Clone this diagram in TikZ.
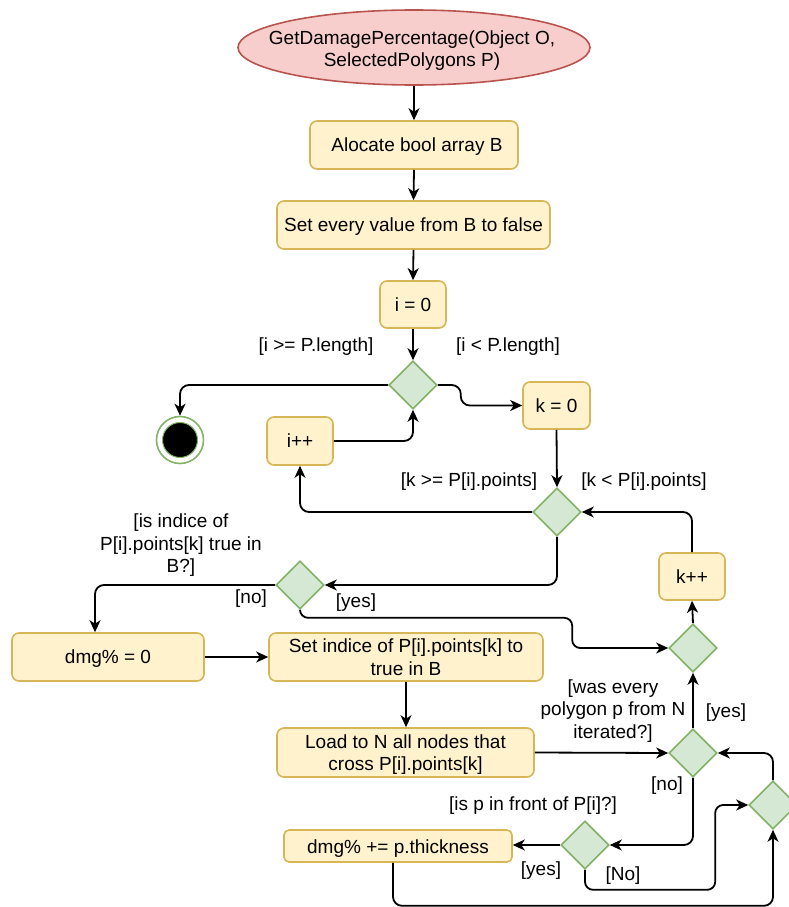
\documentclass[tikz,border=0pt]{standalone}
\usepackage{fontspec}
\setmainfont{Liberation Sans}
\usetikzlibrary{shapes.geometric,arrows.meta}

\definecolor{actfill}{HTML}{FFF2CC}
\definecolor{actline}{HTML}{D6B656}
\definecolor{decfill}{HTML}{D5E8D4}
\definecolor{decline}{HTML}{82B366}
\definecolor{startfill}{HTML}{F8CECC}
\definecolor{startline}{HTML}{B85450}

\tikzset{
  act/.style={draw=actline, fill=actfill, line width=1.6pt, rounded corners=7pt,
              inner sep=2pt, align=center},
  oneline/.style={text height=18pt, text depth=4.6pt},
  dec/.style={diamond, draw=decline, fill=decfill, line width=1.6pt,
              minimum width=48pt, minimum height=48pt, inner sep=0pt},
  flow/.style={draw, line width=1.8pt, rounded corners=9pt,
               -{Stealth[length=12pt,width=11pt,inset=3.5pt]}},
  lbl/.style={align=center, inner sep=0pt}
}

\begin{document}
\begin{tikzpicture}[x=1pt, y=-1pt, font=\fontsize{19}{22.5}\selectfont]
\useasboundingbox (0,0) rectangle (789,907);
\clip (0,0) rectangle (789,907);

% ---- nodes ----
\node[ellipse, draw=startline, fill=startfill, line width=1.6pt, inner sep=0pt,
      minimum width=352pt, minimum height=75pt] (start) at (414,47.5) {};
\node[lbl] (starttext) at (412,50.5) {GetDamagePercentage(Object O,\\SelectedPolygons P)};
\node[act, oneline, minimum width=208pt, minimum height=48pt] (alloc) at (414,145) {\hspace{6pt}Alocate bool array B};
\node[act, oneline, minimum width=273pt, minimum height=48pt] (setall) at (413.5,225) {Set every value from B to false};
\node[act, oneline, minimum width=66pt, minimum height=47pt] (izero) at (413,304.5) {i = 0};
\node[dec] (d1) at (413,385) {};
\node[circle, draw=decline, fill=white, line width=1.6pt, minimum size=47pt, inner sep=0pt]
      (endn) at (180,440) {};
\node[circle, draw=decline, fill=black, line width=1pt, minimum size=35pt, inner sep=0pt]
      (endcore) at (endn.center) {};
\node[act, oneline, minimum width=66pt, minimum height=48pt] (ipp) at (300,441) {i++};
\node[act, oneline, minimum width=67pt, minimum height=47pt] (kzero) at (556.5,405.5) {k = 0};
\node[dec] (d2) at (557,512) {};
\node[act, oneline, minimum width=66pt, minimum height=47pt] (kpp) at (692,576.5) {k++};
\node[dec] (d3) at (300,585) {};
\node[dec] (d4) at (693,648) {};
\node[act, oneline, minimum width=192pt, minimum height=48pt] (dmgz) at (108,657) {dmg\% = 0};
\node[act, minimum width=274pt, minimum height=48pt] (seti) at (406,657)
      {Set indice of P[i].points[k] to\\true in B};
\node[act, text depth=0pt, minimum width=257pt, minimum height=49pt] (load) at (405.5,752.5)
      {Load to N all nodes that\\cross P[i].points[k]};
\node[dec] (d5) at (693,753) {};
\node[dec] (d6) at (773,805) {};
\node[dec] (d7) at (585,845) {};
\node[act, text height=18pt, text depth=3.6pt, rounded corners=5pt,
      minimum width=228pt, minimum height=32pt] (dmgp) at (398,846)
      {dmg\% += p.thickness};

% ---- guard labels ----
\node[lbl] (lgeq) at (316,347) {[i >= P.length]};
\node[lbl] (llt) at (508,347) {[i < P.length]};
\node[lbl] (lkgeq) at (469,482) {[k >= P[i].points]};
\node[lbl] (lklt) at (644,482) {[k < P[i].points]};
\node[lbl] (lidx) at (181,545.5) {[is indice of\\P[i].points[k] true in\\B?]};
\node[lbl] (lno1) at (251,599) {[no]};
\node[lbl] (lyes1) at (356,603) {[yes]};
\node[lbl] (lwas) at (613,711) {[was every\\polygon p from N\\iterated?]};
\node[lbl] (lyes2) at (726,713) {[yes]};
\node[lbl] (lno2) at (667,786) {[no]};
\node[lbl] (lfront) at (533,806) {[is p in front of P[i]?]};
\node[lbl] (lyes3) at (541,871) {[yes]};
\node[lbl] (lno3) at (623,876) {[No]};

% ---- connectors ----
\draw[flow] (start.south) -- (alloc.north);
\draw[flow] (alloc.south) -- (setall.north);
\draw[flow] (setall.south) -- (izero.north);
\draw[flow] (izero.south) -- (d1.north);
\draw[flow] (d1.west) -| (endn.north);
\draw[flow] (d1.east) -- ++(23,0) |- (kzero.west);
\draw[flow] (ipp.east) -| (d1.south);
\draw[flow] (kzero.south) -- (d2.north);
\draw[flow] (d2.west) -| (ipp.south);
\draw[flow] (kpp.north) |- (d2.east);
\draw[flow] (d2.south) |- (d3.east);
\draw[flow] (d3.west) -| ([xshift=-13pt]dmgz.north);
\draw[flow, rounded corners=8pt] (d3.south) -- ++(0,8) -| ([xshift=-96pt]d4.west) -- (d4.west);
\draw[flow] (d4.north) -- (kpp.south);
\draw[flow] (dmgz.east) -- (seti.west);
\draw[flow] (seti.south) -- (seti.south |- load.north);
\draw[flow] (load.east) -- (d5.west);
\draw[flow] (d5.north) -- (d4.south);
\draw[flow] (d5.south) |- (d7.east);
\draw[flow] (d7.west) -- (d7.west -| dmgp.east);
\draw[flow, rounded corners=8pt] (d7.south) -- ++(0,20) -| ([xshift=-33pt]d6.west) -- (d6.west);
\draw[flow] (d6.north) |- (d5.east);
\draw[flow] ([xshift=-5pt]dmgp.south) -- ++(0,43) -| (d6.south);
\end{tikzpicture}
\end{document}
